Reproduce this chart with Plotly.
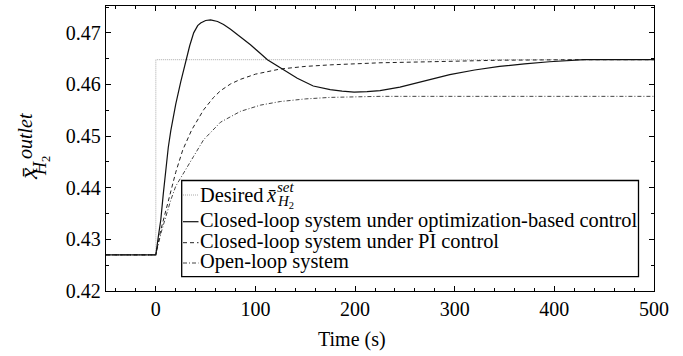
import plotly.graph_objects as go

# Time axis samples (s) and H2 outlet mole fraction responses
t_opt = [-50, 0, 2.5, 5, 7.5, 10, 12.5, 15, 20, 25, 30, 34, 38, 42, 45, 50, 55, 62, 68, 75, 85, 95, 105, 112, 127,
         142, 158, 175, 187, 199, 212, 225, 245, 275, 295, 320, 345, 370, 395, 430, 500]
x_opt = [0.4270, 0.4270, 0.4305, 0.4338, 0.4388, 0.4436, 0.4478, 0.4510, 0.4562, 0.4605, 0.4646, 0.4675, 0.4700,
         0.4714, 0.4719, 0.4724, 0.4725, 0.4722, 0.4716, 0.4707, 0.4692, 0.4677, 0.4660, 0.4648, 0.4630,
         0.4612, 0.4597, 0.4590, 0.4587, 0.4585, 0.4586, 0.4588, 0.4595, 0.4610, 0.4619, 0.4628, 0.4635,
         0.4640, 0.4644, 0.4648, 0.4648]

t_pi = [-50, 0, 5, 12, 20, 27, 36, 48, 58, 65, 75, 85, 100, 125, 150, 175, 225, 275, 345, 420, 500]
x_pi = [0.4270, 0.4270, 0.4318, 0.4373, 0.4430, 0.4473, 0.4512, 0.4551, 0.4575, 0.4588, 0.4601, 0.4610, 0.4620,
        0.4630, 0.4635, 0.4638, 0.4642, 0.4644, 0.4647, 0.4648, 0.4648]

t_ol = [-50, 0, 5, 10, 15, 20, 28, 38, 48, 65, 85, 105, 125, 150, 175, 225, 500]
x_ol = [0.4270, 0.4270, 0.4311, 0.4346, 0.4376, 0.4403, 0.4430, 0.4461, 0.4493, 0.4527, 0.4548, 0.4560, 0.4567,
        0.4572, 0.4575, 0.4577, 0.4577]

t_set = [-50, 0, 0, 500]
x_set = [0.4270, 0.4270, 0.4648, 0.4648]

x_ticks = [0, 100, 200, 300, 400, 500]
y_ticks = [0.42, 0.43, 0.44, 0.45, 0.46, 0.47]

legend_labels = [
    "Desired",
    "Closed-loop system under optimization-based control",
    "Closed-loop system under PI control",
    "Open-loop system",
]

SERIF = "Liberation Serif"
W, H = 683, 356
L, R, T, B = 106, 29, 6, 65
PW, PH = W - L - R, H - T - B


def px_x(px):
    return (px - L) / PW


def px_y(py):
    return (H - B - py) / PH


styles = [
    dict(color="#aaaaaa", width=1, dash="1px,1px"),
    dict(color="#111111", width=1.2, dash="solid"),
    dict(color="#222222", width=1, dash="4px,3px"),
    dict(color="#444444", width=1, dash="4px,2px,1px,2px"),
]

fig = go.Figure()
fig.add_trace(go.Scatter(x=t_set, y=x_set, mode="lines", line=styles[0], showlegend=False))
fig.add_trace(go.Scatter(x=t_ol, y=x_ol, mode="lines", line=styles[3], showlegend=False))
fig.add_trace(go.Scatter(x=t_pi, y=x_pi, mode="lines", line=styles[2], showlegend=False))
fig.add_trace(go.Scatter(x=t_opt, y=x_opt, mode="lines", line=styles[1], showlegend=False))
# empty trace that carries the top/right tick axes
fig.add_trace(go.Scatter(x=[], y=[], xaxis="x2", yaxis="y2", showlegend=False, hoverinfo="skip"))

tick_common = dict(
    ticks="inside", ticklen=5, tickwidth=1, tickcolor="black",
    showgrid=False, zeroline=False,
)

fig.update_layout(
    xaxis=dict(
        range=[-50, 500], tickvals=x_ticks, showline=True, linecolor="black", linewidth=1.3, mirror=True,
        minor=dict(dtick=20, tick0=0, ticks="inside", ticklen=3, tickcolor="black", showgrid=False),
        tickfont=dict(family=SERIF, size=20, color="black"),
        **tick_common,
    ),
    yaxis=dict(
        range=[0.42, 0.4752], tickvals=y_ticks, tickformat=".2f", showline=True, linecolor="black",
        linewidth=1.3, mirror=True,
        minor=dict(dtick=0.005, tick0=0.42, ticks="inside", ticklen=3, tickcolor="black", showgrid=False),
        tickfont=dict(family=SERIF, size=20, color="black"),
        **tick_common,
    ),
    xaxis2=dict(
        range=[-50, 500], tickvals=x_ticks, overlaying="x", side="top", anchor="y", showticklabels=False,
        minor=dict(dtick=20, tick0=0, ticks="inside", ticklen=3, tickcolor="black", showgrid=False),
        **tick_common,
    ),
    yaxis2=dict(
        range=[0.42, 0.4752], tickvals=y_ticks, overlaying="y", side="right", anchor="x", showticklabels=False,
        minor=dict(dtick=0.005, tick0=0.42, ticks="inside", ticklen=3, tickcolor="black", showgrid=False),
        **tick_common,
    ),
)

annotations = []
shapes = []

# x-axis label
annotations.append(dict(text="Time (s)", x=px_x(351.5), y=px_y(339), xref="paper", yref="paper",
                        showarrow=False, xanchor="center", yanchor="middle",
                        font=dict(family=SERIF, size=20, color="black")))

# y-axis label: x-bar with stacked superscript / subscript
annotations.append(dict(text="<i>x\u0304</i>", x=px_x(28), y=px_y(174), xref="paper", yref="paper",
                        textangle=-90, showarrow=False, xanchor="center", yanchor="middle",
                        font=dict(family=SERIF, size=26, color="black")))
annotations.append(dict(text="<i>outlet</i>", x=px_x(25), y=px_y(136), xref="paper", yref="paper",
                        textangle=-90, showarrow=False, xanchor="center", yanchor="middle",
                        font=dict(family=SERIF, size=20, color="black")))
annotations.append(dict(text="<i>H</i><sub>2</sub>", x=px_x(41), y=px_y(166), xref="paper", yref="paper",
                        textangle=-90, showarrow=False, xanchor="center", yanchor="middle",
                        font=dict(family=SERIF, size=18, color="black")))

# legend box
shapes.append(dict(type="rect", xref="paper", yref="paper",
                   x0=px_x(181.7), x1=px_x(638.5), y0=px_y(276.7), y1=px_y(180.5),
                   line=dict(color="black", width=1.3), fillcolor="white", layer="above"))

sample_rows = [195, 221.7, 242.7, 263]
text_rows = [195, 220, 241.5, 261.7]
for i, lab in enumerate(legend_labels):
    shapes.append(dict(type="line", xref="paper", yref="paper",
                       x0=px_x(183), x1=px_x(198.5), y0=px_y(sample_rows[i]), y1=px_y(sample_rows[i]),
                       line=styles[i], layer="above"))
    annotations.append(dict(text=lab, x=px_x(197.5), y=px_y(text_rows[i]), xref="paper", yref="paper",
                            showarrow=False, xanchor="left", yanchor="middle",
                            font=dict(family=SERIF, size=20.4, color="black")))

# setpoint symbol in the first legend row
annotations.append(dict(text="<i>x\u0304</i>", x=px_x(264), y=px_y(195), xref="paper", yref="paper",
                        showarrow=False, xanchor="left", yanchor="middle",
                        font=dict(family=SERIF, size=20.4, color="black")))
annotations.append(dict(text="<i>set</i>", x=px_x(275), y=px_y(187), xref="paper", yref="paper",
                        showarrow=False, xanchor="left", yanchor="middle",
                        font=dict(family=SERIF, size=15, color="black")))
annotations.append(dict(text="<i>H</i><sub>2</sub>", x=px_x(275), y=px_y(202), xref="paper", yref="paper",
                        showarrow=False, xanchor="left", yanchor="middle",
                        font=dict(family=SERIF, size=15, color="black")))

fig.update_layout(
    width=W, height=H,
    margin=dict(l=L, r=R, t=T, b=B),
    plot_bgcolor="white", paper_bgcolor="white",
    showlegend=False,
    annotations=annotations, shapes=shapes,
)

fig.write_html("out.html")
